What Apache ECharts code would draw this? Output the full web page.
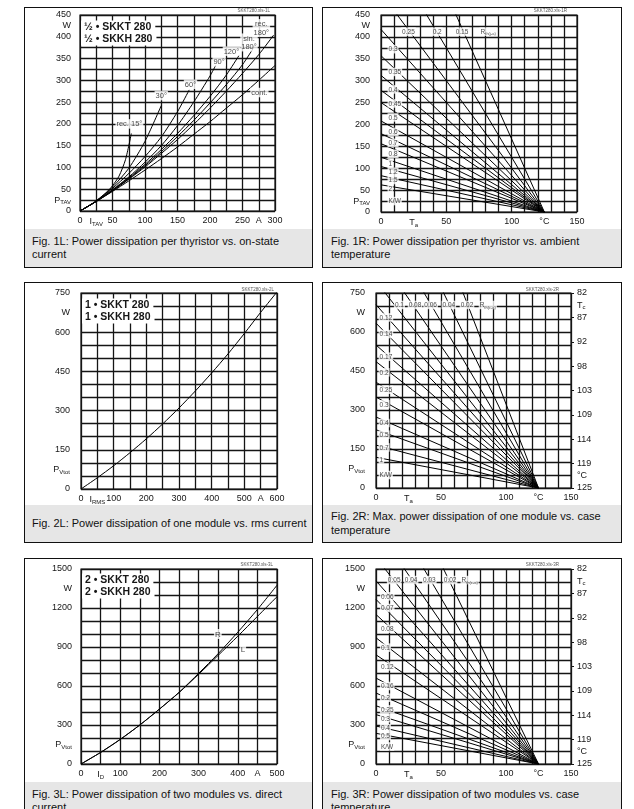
<!DOCTYPE html>
<html>
<head>
<meta charset="utf-8">
<title>SKKT 280 power dissipation</title>
<script src="https://cdn.jsdelivr.net/npm/echarts@6/dist/echarts.min.js"></script>
<style>
  html, body { margin: 0; padding: 0; background: #fff; }
  body { width: 634px; height: 809px; overflow: hidden; position: relative;
         font-family: 'Liberation Sans', Arial, sans-serif; }
  .box { position: absolute; border: 1px solid #111; box-sizing: border-box; }
  .cap { position: absolute; background: #e6e6e6; font-size: 11px; line-height: 13.5px; color: #111;
         display: flex; align-items: center; white-space: nowrap; box-sizing: border-box; }
  #chart { position: absolute; left: 0; top: 0; width: 634px; height: 809px; }
</style>
</head>
<body>
<div class="box" style="left:24px;top:7px;width:289px;height:261px"></div>
<div class="box" style="left:322px;top:7px;width:300px;height:261px"></div>
<div class="box" style="left:24px;top:282px;width:289px;height:261px"></div>
<div class="box" style="left:322px;top:282px;width:300px;height:261px"></div>
<div class="box" style="left:24px;top:558px;width:289px;height:261px"></div>
<div class="box" style="left:322px;top:558px;width:300px;height:261px"></div>

<div class="cap" style="left:25px;top:229px;width:287px;height:38px;padding-left:7px"><span>Fig. 1L: Power dissipation per thyristor vs. on-state<br>current</span></div>
<div class="cap" style="left:323px;top:229px;width:298px;height:38px;padding-left:8px"><span>Fig. 1R: Power dissipation per thyristor vs. ambient<br>temperature</span></div>
<div class="cap" style="left:25px;top:505px;width:287px;height:37px;padding-left:7px"><span>Fig. 2L: Power dissipation of one module vs. rms current</span></div>
<div class="cap" style="left:323px;top:505px;width:298px;height:37px;padding-left:8px"><span>Fig. 2R: Max. power dissipation of one module vs. case<br>temperature</span></div>
<div class="cap" style="left:25px;top:782px;width:287px;height:38px;padding-left:7px"><span>Fig. 3L: Power dissipation of two modules vs. direct<br>current</span></div>
<div class="cap" style="left:323px;top:782px;width:298px;height:38px;padding-left:8px"><span>Fig. 3R: Power dissipation of two modules vs. case<br>temperature</span></div>

<div id="chart"></div>

<script>
// ---------- Fig. 1L: power per thyristor vs. on-state current ----------
const iCont = [0, 25, 50, 75, 100, 125, 150, 175, 200, 225, 250, 275, 300];
const pCont = [0, 22, 45, 69, 94, 120, 147, 176, 205, 236, 267, 300, 334];
const iRec180 = [0, 25, 50, 75, 100, 125, 150, 175, 200, 225, 250, 275, 298];
const pRec180 = [0, 22, 46, 73, 101, 132, 164, 199, 236, 275, 316, 359, 404];
const iSin180 = [0, 25, 50, 75, 100, 125, 150, 175, 200, 225, 250, 268];
const pSin180 = [0, 22, 47, 74, 104, 136, 171, 208, 248, 290, 336, 377];
const i120 = [0, 25, 50, 75, 100, 125, 150, 175, 200, 225, 245];
const p120 = [0, 22, 48, 76, 107, 141, 178, 219, 263, 312, 358];
const i90 = [0, 25, 50, 75, 100, 125, 150, 175, 200, 209];
const p90 = [0, 22, 49, 78, 112, 150, 196, 250, 310, 335];
const i60 = [0, 25, 50, 75, 100, 125, 150, 168];
const p60 = [0, 23, 52, 86, 125, 170, 228, 278];
const i30 = [0, 25, 50, 75, 100, 125];
const p30 = [0, 23, 55, 98, 160, 242];
const iRec15 = [0, 20, 40, 50, 60, 70, 79];
const pRec15 = [0, 18, 42, 58, 80, 118, 178];

const curveNames1L = ['rec. 15°', '30°', '60°', '90°', '120°', 'sin.\n180°', 'rec.\n180°', 'cont.'];
const curveNameI1L = [76, 125, 170, 214, 233, 260, 279, 276];
const curveNameP1L = [200, 265, 291, 343, 367, 387, 420, 272];

const xTicks1L = ['0', 'I_TAV', '50', '', '100', '', '150', '', '200', '', '250', 'A', '300'];
const yTicks1L = ['0', 'P_TAV', '50', '', '100', '', '150', '', '200', '', '250', '', '300', '', '350', '', '400', 'W', '450'];

// ---------- Fig. 1R: power per thyristor vs. ambient temperature ----------
const rth1R = ['0.15', '0.2', '0.25', '0.3', '0.35', '0.4', '0.45', '0.5', '0.6', '0.7', '0.8', '1', '1.2', '1.5', '2'];
const pAtZero1R = [833, 625, 500, 417, 357, 312, 278, 250, 208, 179, 156, 125, 104, 83, 62];
const tEnd1R = 125;
const sideNames1R = ['0.3', '0.35', '0.4', '0.45', '0.5', '0.6', '0.7', '0.8', '1', '1.2', '1.5', '2', 'K/W'];
const sideP1R = [372, 320, 280, 248, 216, 183, 158, 133, 111, 92, 73, 54, 25];
const topNames1R = ['0.25', '0.2', '0.15', 'R_th(j-a)'];
const topT1R = [21, 43, 62, 82];
const topP1R = 412;

const xTicksTa = ['0', 'T_a', '50', '', '100', '°C', '150'];

// ---------- Fig. 2L: one module vs. rms current ----------
const iRms = [0, 50, 100, 150, 200, 250, 300, 350, 400, 450, 500, 550, 600];
const p2L = [0, 43, 89, 139, 192, 249, 310, 375, 444, 517, 595, 676, 754];
const xTicks2L = ['0', 'I_RMS', '100', '', '200', '', '300', '', '400', '', '500', 'A', '600'];
const yTicks750 = ['0', 'P_Vtot', '150', '', '300', '', '450', '', '600', 'W', '750'];

// ---------- Fig. 2R: one module vs. case temperature ----------
const rth2R = ['0.02', '0.04', '0.06', '0.08', '0.1', '0.12', '0.14', '0.17', '0.2', '0.25', '0.3', '0.4', '0.5', '0.7', '1'];
const pAtZero2R = [1617, 1285, 1066, 911, 795, 705, 634, 550, 486, 407, 350, 273, 224, 165, 118];
const tEnd2R = 125;
const sideNames2R = ['0.12', '0.14', '0.17', '0.2', '0.25', '0.3', '0.4', '0.5', '0.7', '1', 'K/W'];
const sideP2R = [656, 592, 505, 445, 378, 322, 250, 205, 156, 110, 50];
const topNames2R = ['0.1', '0.08', '0.06', '0.04', '0.02', 'R_th(c-a)'];
const topT2R = [18, 30, 42, 56, 70, 86];
const topP2R = 704;

const tcTicks = ['125', '119', '114', '109', '103', '98', '92', '87', '82'];
const tcUnits = ['', '°C', '', '', '', '', '', '', '', '', '', '', '', '', '', 'T_c', ''];

// ---------- Fig. 3L: two modules vs. direct current ----------
const iD = [0, 50, 100, 150, 200, 250, 300, 350, 400, 450, 500];
const pR = [0, 89, 189, 300, 422, 551, 697, 849, 1014, 1188, 1375];
const pL = [0, 89, 189, 300, 422, 549, 690, 836, 983, 1135, 1287];
const curveNames3L = ['R', 'L'];
const curveNameI3L = [349, 413];
const curveNameP3L = [1000, 880];
const xTicks3L = ['0', 'I_D', '100', '', '200', '', '300', '', '400', 'A', '500'];
const yTicks1500 = ['0', 'P_Vtot', '300', '', '600', '', '900', '', '1200', 'W', '1500'];

// ---------- Fig. 3R: two modules vs. case temperature ----------
const rth3R = ['0.02', '0.03', '0.04', '0.05', '0.06', '0.07', '0.08', '0.1', '0.12', '0.16', '0.2', '0.25', '0.3', '0.4', '0.5'];
const pAtZero3R = [2567, 2129, 1819, 1588, 1409, 1266, 1150, 971, 840, 661, 546, 448, 380, 292, 236];
const tEnd3R = 125;
const sideNames3R = ['0.06', '0.07', '0.08', '0.1', '0.12', '0.16', '0.2', '0.25', '0.3', '0.4', '0.5', 'K/W'];
const sideP3R = [1290, 1200, 1040, 895, 750, 600, 510, 420, 352, 276, 215, 135];
const topNames3R = ['0.05', '0.04', '0.03', '0.02', 'R_th(c-a)'];
const topT3R = [14, 27, 41, 57, 72];
const topP3R = 1415;

// ---------------------------------------------------------------------
const FONT = "'Liberation Sans', Arial, sans-serif";
const INK = '#161616';
const GRID_LINE = { color: '#151515', width: 1.3 };

const grid = [];
const xAxis = [];
const yAxis = [];
const series = [];
const graphic = [];

// 'P_TAV' -> P with subscript TAV
function toRich(t) {
  const k = t.indexOf('_');
  if (k < 0) return t;
  return '{m|' + t.slice(0, k) + '}{s|' + t.slice(k + 1) + '}';
}

function richFor(size) {
  return {
    m: { fontSize: size, fontFamily: FONT, color: INK },
    s: { fontSize: Math.round(size * 0.66), fontFamily: FONT, color: INK, padding: [Math.round(size * 0.6), 0, 0, 0] }
  };
}

function tickFormatter(labels, step) {
  return (v) => toRich(labels[Math.round(v / step)] || '');
}

function splitAxis(gi, pos, max, step) {
  return {
    type: 'value', gridIndex: gi, position: pos, min: 0, max: max, interval: step,
    axisLine: { show: false }, axisTick: { show: false }, axisLabel: { show: false },
    splitLine: { show: true, lineStyle: GRID_LINE }
  };
}

function labelAxis(gi, pos, max, step, labels, margin, ticks) {
  return {
    type: 'value', gridIndex: gi, position: pos, min: 0, max: max, interval: step,
    axisLine: { show: false },
    axisTick: { show: !!ticks, length: 3, lineStyle: { color: INK, width: 1 } },
    splitLine: { show: false },
    axisLabel: {
      show: true, margin: margin, fontSize: 9, fontFamily: FONT, color: INK,
      showMinLabel: true, showMaxLabel: true,
      formatter: tickFormatter(labels, step), rich: richFor(9)
    }
  };
}

function addPanel(cfg) {
  const gi = grid.length;
  grid.push({
    left: cfg.box[0], top: cfg.box[1], width: cfg.box[2], height: cfg.box[3],
    show: true, borderColor: '#151515', borderWidth: 1.2, backgroundColor: 'transparent'
  });
  const xi = xAxis.length;
  const yi = yAxis.length;
  xAxis.push(splitAxis(gi, 'bottom', cfg.xMax, cfg.xGrid));
  xAxis.push(labelAxis(gi, 'bottom', cfg.xMax, cfg.xStep, cfg.xTicks, 5));
  yAxis.push(splitAxis(gi, 'left', cfg.yMax, cfg.yGrid));
  yAxis.push(labelAxis(gi, 'left', cfg.yMax, cfg.yStep, cfg.yTicks, cfg.yMargin));
  if (cfg.tc) {
    yAxis.push(labelAxis(gi, 'right', cfg.yMax, cfg.yMax / 8, tcTicks, 6, true));
    yAxis.push(labelAxis(gi, 'right', cfg.yMax, cfg.yMax / 16, tcUnits, 6));
  }
  graphic.push({
    type: 'text', x: cfg.idPos[0], y: cfg.idPos[1], z: 100, silent: true,
    style: { text: cfg.id, font: '4.5px ' + FONT, fill: '#555', align: 'right', verticalAlign: 'middle' }
  });
  if (cfg.legend) {
    cfg.legend.forEach((t, k) => {
      graphic.push({
        type: 'text', x: cfg.box[0] + 1, y: cfg.box[1] + cfg.legendTop + k * 12, z: 100, silent: true,
        style: {
          text: t, font: 'bold 10.5px ' + FONT, fill: INK, align: 'left', verticalAlign: 'middle',
          backgroundColor: '#fff', padding: [1, 4, 1, 3]
        }
      });
    });
  }
  return { xi: xi, yi: yi };
}

function curve(ax, xs, ys, smooth) {
  return {
    type: 'line', xAxisIndex: ax.xi, yAxisIndex: ax.yi, silent: true, z: 3,
    data: xs.map((x, k) => [x, ys[k]]),
    symbol: 'none', showSymbol: false, smooth: smooth ? 0.25 : false,
    lineStyle: { color: '#000', width: 1 }
  };
}

function rthLines(ax, pZero, tEnd) {
  return pZero.map((p) => curve(ax, [0, tEnd], [p, 0], false));
}

function textMarks(ax, names, xs, ys, size, position) {
  return {
    type: 'scatter', xAxisIndex: ax.xi, yAxisIndex: ax.yi, silent: true, z: 10,
    symbolSize: 0, itemStyle: { color: 'rgba(0,0,0,0)' },
    data: names.map((n, k) => ({ name: n, value: [Array.isArray(xs) ? xs[k] : xs, Array.isArray(ys) ? ys[k] : ys] })),
    label: {
      show: true, position: position, distance: 0,
      formatter: (p) => toRich(p.name),
      fontSize: size, fontFamily: FONT, color: INK, lineHeight: size + 1,
      backgroundColor: '#fff', padding: [1, 1, 0, 1], rich: richFor(size)
    }
  };
}

// ---- panels ----
const ax1L = addPanel({
  box: [80, 15, 195, 196], xMax: 300, xGrid: 25, xStep: 25, xTicks: xTicks1L,
  yMax: 450, yGrid: 25, yStep: 25, yTicks: yTicks1L, yMargin: 9,
  id: 'SKKT280.xls-1L', idPos: [270, 11],
  legend: ['\u00bd \u2022 SKKT 280', '\u00bd \u2022 SKKH 280'], legendTop: 12
});
const ax1R = addPanel({
  box: [381, 15, 196, 197], xMax: 150, xGrid: 10, xStep: 25, xTicks: xTicksTa,
  yMax: 450, yGrid: 25, yStep: 25, yTicks: yTicks1L, yMargin: 11,
  id: 'SKKT280.xls-1R', idPos: [567, 11]
});
const ax2L = addPanel({
  box: [81, 293, 196, 196], xMax: 600, xGrid: 50, xStep: 50, xTicks: xTicks2L,
  yMax: 750, yGrid: 50, yStep: 75, yTicks: yTicks750, yMargin: 11,
  id: 'SKKT280.xls-2L', idPos: [274, 290],
  legend: ['1 \u2022 SKKT 280', '1 \u2022 SKKH 280'], legendTop: 12
});
const ax2R = addPanel({
  box: [376, 293, 195, 195], xMax: 150, xGrid: 10, xStep: 25, xTicks: xTicksTa,
  yMax: 750, yGrid: 50, yStep: 75, yTicks: yTicks750, yMargin: 11, tc: true,
  id: 'SKKT280.xls-2R', idPos: [559, 290]
});
const ax3L = addPanel({
  box: [81, 569, 196, 195], xMax: 500, xGrid: 50, xStep: 50, xTicks: xTicks3L,
  yMax: 1500, yGrid: 100, yStep: 150, yTicks: yTicks1500, yMargin: 9,
  id: 'SKKT280.xls-3L', idPos: [273, 565],
  legend: ['2 \u2022 SKKT 280', '2 \u2022 SKKH 280'], legendTop: 11
});
const ax3R = addPanel({
  box: [376, 569, 195, 195], xMax: 150, xGrid: 10, xStep: 25, xTicks: xTicksTa,
  yMax: 1500, yGrid: 100, yStep: 150, yTicks: yTicks1500, yMargin: 11, tc: true,
  id: 'SKKT280.xls-3R', idPos: [559, 565]
});

// ---- series ----
[[iCont, pCont], [iRec180, pRec180], [iSin180, pSin180], [i120, p120],
 [i90, p90], [i60, p60], [i30, p30], [iRec15, pRec15]].forEach(([xs, ys]) => series.push(curve(ax1L, xs, ys, true)));
series.push(textMarks(ax1L, curveNames1L, curveNameI1L, curveNameP1L, 7.5, 'inside'));

series.push(...rthLines(ax1R, pAtZero1R, tEnd1R));
series.push(textMarks(ax1R, sideNames1R, 5, sideP1R, 6.5, 'right'));
series.push(textMarks(ax1R, topNames1R, topT1R, topP1R, 6.5, 'inside'));

series.push(curve(ax2L, iRms, p2L, true));

series.push(...rthLines(ax2R, pAtZero2R, tEnd2R));
series.push(textMarks(ax2R, sideNames2R, 2, sideP2R, 6.5, 'right'));
series.push(textMarks(ax2R, topNames2R, topT2R, topP2R, 6.5, 'inside'));

series.push(curve(ax3L, iD, pR, true));
series.push(curve(ax3L, iD, pL, true));
series.push(textMarks(ax3L, curveNames3L, curveNameI3L, curveNameP3L, 8, 'inside'));

series.push(...rthLines(ax3R, pAtZero3R, tEnd3R));
series.push(textMarks(ax3R, sideNames3R, 3, sideP3R, 6.5, 'right'));
series.push(textMarks(ax3R, topNames3R, topT3R, topP3R, 6.5, 'inside'));

const chart = echarts.init(document.getElementById('chart'), null, { renderer: 'canvas' });
chart.setOption({
  animation: false,
  backgroundColor: 'transparent',
  textStyle: { fontFamily: FONT },
  grid: grid,
  xAxis: xAxis,
  yAxis: yAxis,
  series: series,
  graphic: graphic
});

window.addEventListener('resize', () => chart.resize());
</script>
</body>
</html>
